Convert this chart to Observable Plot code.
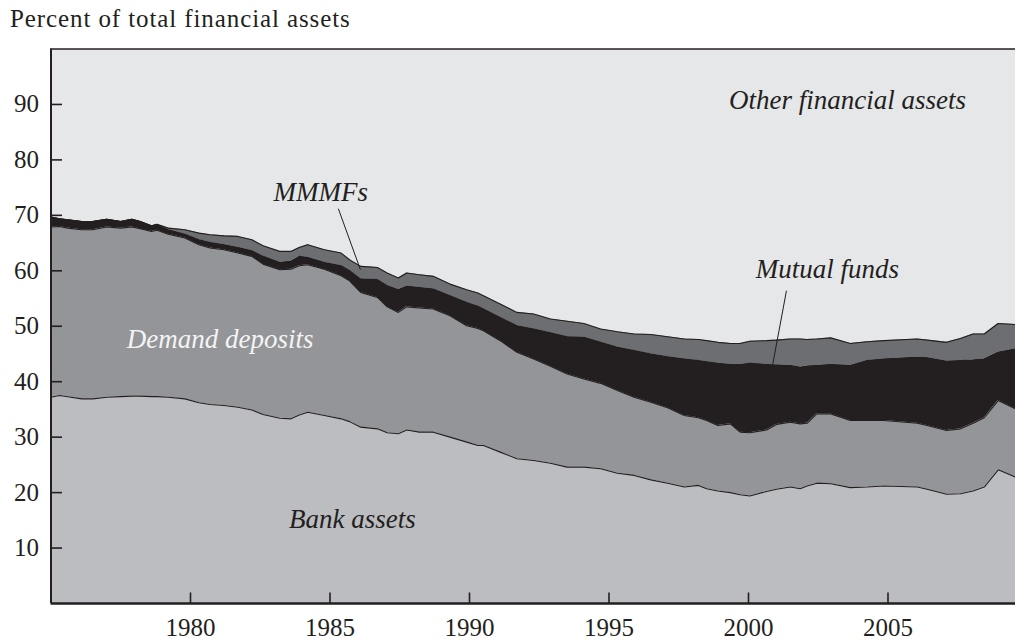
<!DOCTYPE html>
<html><head><meta charset="utf-8">
<script src="https://cdn.jsdelivr.net/npm/d3@7"></script>
<script src="https://cdn.jsdelivr.net/npm/@observablehq/plot@0.6"></script>
<style>
html,body{margin:0;padding:0;background:#fff;}
#wrap{position:relative;width:1015px;height:641px;overflow:hidden;}
#title{position:absolute;left:10px;top:6px;font-family:"Liberation Serif",serif;font-size:25px;line-height:25px;color:#231f20;white-space:nowrap;letter-spacing:0.9px;}
#chart{position:absolute;left:0;top:40px;}
</style></head>
<body><div id="wrap"><div id="title">Percent of total financial assets</div><div id="chart"></div></div>
<script>
// ---- data (percent of total financial assets) ----
const years = [1975.0,1975.3,1975.6,1976.1,1976.5,1977.0,1977.5,1977.9,1978.2,1978.6,1978.8,1979.2,1979.8,1980.3,1980.7,1981.2,1981.7,1982.2,1982.6,1983.2,1983.6,1983.9,1984.2,1984.8,1985.4,1985.7,1986.1,1986.7,1987.05,1987.45,1987.75,1988.2,1988.7,1989.3,1989.9,1990.3,1990.5,1991.1,1991.7,1992.3,1992.9,1993.5,1994.1,1994.7,1995.3,1995.9,1996.5,1997.1,1997.7,1998.2,1998.5,1998.9,1999.35,1999.7,2000.05,2000.65,2001.0,2001.5,2001.85,2002.1,2002.45,2002.95,2003.65,2004.25,2004.85,2006.05,2006.4,2007.1,2007.6,2008.05,2008.45,2008.95,2009.57];
const bankAssets = [37.2,37.5,37.3,36.9,36.9,37.2,37.3,37.4,37.4,37.3,37.3,37.2,36.9,36.2,35.9,35.7,35.4,34.9,34.1,33.4,33.3,34.0,34.5,33.9,33.3,32.8,31.8,31.5,30.8,30.6,31.3,30.9,30.9,30.0,29.1,28.5,28.5,27.3,26.1,25.8,25.3,24.6,24.6,24.3,23.5,23.1,22.3,21.7,21.0,21.3,20.7,20.3,20.0,19.6,19.4,20.2,20.6,21.0,20.7,21.2,21.7,21.6,20.9,21.0,21.2,21.0,20.6,19.7,19.8,20.3,21.0,24.1,22.8];
const demandDeposits = [30.7,30.5,30.4,30.5,30.5,30.7,30.4,30.5,30.2,29.8,30.0,29.4,29.0,28.5,28.2,28.1,27.8,27.7,27.1,26.8,27.0,26.9,26.6,26.4,25.8,25.4,24.3,23.7,22.7,21.9,22.2,22.4,22.2,21.9,21.0,21.1,20.7,20.1,19.2,18.3,17.5,16.8,15.9,15.4,14.9,14.1,14.0,13.6,12.9,12.2,12.3,11.8,12.4,11.3,11.4,11.1,11.7,11.7,11.7,11.3,12.5,12.6,12.1,12.0,11.8,11.5,11.5,11.5,11.7,12.2,12.5,12.5,12.3];
const mutualFunds = [1.8,1.4,1.5,1.5,1.5,1.4,1.2,1.4,1.3,1.0,1.0,0.8,0.7,0.9,1.0,0.9,1.0,1.0,1.4,1.3,1.4,1.7,1.3,1.2,1.8,1.8,2.4,3.2,3.8,4.1,3.7,3.7,3.6,3.6,4.2,4.0,3.9,4.2,4.8,5.4,6.0,6.7,7.5,7.4,7.8,8.4,8.7,9.2,10.2,10.3,10.6,11.2,10.7,12.2,12.5,11.8,10.7,10.2,10.2,10.3,8.7,8.9,9.9,10.8,11.1,11.9,12.2,12.5,12.3,11.4,10.6,8.7,10.8];
const mmmfs = [0,0,0,0,0,0,0,0,0,0,0.1,0.3,0.8,1.2,1.4,1.6,2.0,2.0,1.9,2.0,1.8,1.6,2.3,2.3,2.3,2.0,2.3,2.2,2.3,2.1,2.4,2.3,2.3,2.1,2.3,2.4,2.4,2.4,2.4,2.7,2.5,2.8,2.5,2.4,2.8,3.0,3.5,3.6,3.6,3.8,3.8,3.8,3.8,3.8,4.0,4.3,4.5,4.8,5.1,4.8,4.8,4.8,4.0,3.4,3.3,3.3,3.2,3.4,4.0,4.7,4.5,5.2,4.4];
const seriesNames = ["Bank assets","Demand deposits","Mutual funds","MMMFs"];
const seriesValues = [bankAssets, demandDeposits, mutualFunds, mmmfs];
const xTicks = [1980,1985,1990,1995,2000,2005];
const yTicks = [10,20,30,40,50,60,70,80,90];
const xDomain = [1975, 2009.57];
const yDomain = [0, 100];

// annotations (in data coordinates)
const darkLabels = [
  {text:"Other financial assets", year:2003.55, pct:90.8},
  {text:"MMMFs", year:1984.67, pct:74.2},
  {text:"Mutual funds", year:2002.83, pct:60.3},
  {text:"Bank assets", year:1985.8, pct:15.2}
];
const lightLabels = [{text:"Demand deposits", year:1981.06, pct:47.7}];
const callouts = [
  {x1:1985.30, y1:71.2, x2:1986.09, y2:60.2},
  {x1:2001.36, y1:56.4, x2:2000.86, y2:42.9}
];

// ---- styles / layout ----
const ink = "#231f20";
const fills = ["#bcbdc1","#939598","#231f20","#6d6e71"];
const otherFill = "#e6e7e8";
const W = 1015, H = 601, mT = 8.5, mB = 38, mL = 50.5, mR = 0, tickLen = 11;
// tick length converted into data units through the scale extents
const tickDX = tickLen * (xDomain[1] - xDomain[0]) / (W - mL - mR);
const tickDY = tickLen * (yDomain[1] - yDomain[0]) / (H - mT - mB);
const tickRows = yTicks.map(v => ({v}));
const tickCols = xTicks.map(v => ({v}));

const table = seriesNames.flatMap((s, i) => years.map((yr, j) => ({series: s, year: yr, value: seriesValues[i][j]})));

const chart = Plot.plot({
  width: W, height: H,
  marginTop: mT, marginBottom: mB, marginLeft: mL, marginRight: mR,
  style: {fontFamily: "'Liberation Serif', serif", fontSize: "25px", color: ink, background: "transparent", overflow: "visible"},
  x: {domain: xDomain, label: null},
  y: {domain: yDomain, label: null},
  color: {domain: seriesNames, range: fills},
  marks: [
    Plot.frame({fill: otherFill, stroke: "none"}),
    Plot.areaY(table, {x: "year", y: "value", z: "series", fill: "series", order: seriesNames, curve: "linear"}),
    Plot.lineY(table, Plot.stackY2({x: "year", y: "value", z: "series", order: seriesNames, stroke: ink, strokeWidth: 1.1, curve: "linear"})),
    Plot.link(callouts, {x1: "x1", y1: "y1", x2: "x2", y2: "y2", stroke: ink, strokeWidth: 1}),
    Plot.text(darkLabels, {x: "year", y: "pct", text: "text", fill: ink, fontStyle: "italic", fontSize: 27, textAnchor: "middle"}),
    Plot.text(lightLabels, {x: "year", y: "pct", text: "text", fill: "#f4f4f4", fontStyle: "italic", fontSize: 27, textAnchor: "middle"}),
    Plot.ruleY([yDomain[1]], {stroke: ink, strokeWidth: 1.5}),
    Plot.ruleX([xDomain[0]], {stroke: ink, strokeWidth: 2}),
    Plot.ruleY([yDomain[0]], {stroke: ink, strokeWidth: 2.5}),
    // inward tick marks
    Plot.link(tickRows, {x1: () => xDomain[0], x2: () => xDomain[0] + tickDX, y1: "v", y2: "v", stroke: ink, strokeWidth: 1.6}),
    Plot.link(tickCols, {x1: "v", x2: "v", y1: () => yDomain[0], y2: () => yDomain[0] + tickDY, stroke: ink, strokeWidth: 1.6}),
    Plot.axisY({ticks: yTicks, tickSize: 0, tickPadding: 12, fill: ink}),
    Plot.axisX({ticks: xTicks, tickSize: 0, tickPadding: 15, tickFormat: d => String(d), fill: ink})
  ]
});
document.getElementById("chart").appendChild(chart);
</script></body></html>
